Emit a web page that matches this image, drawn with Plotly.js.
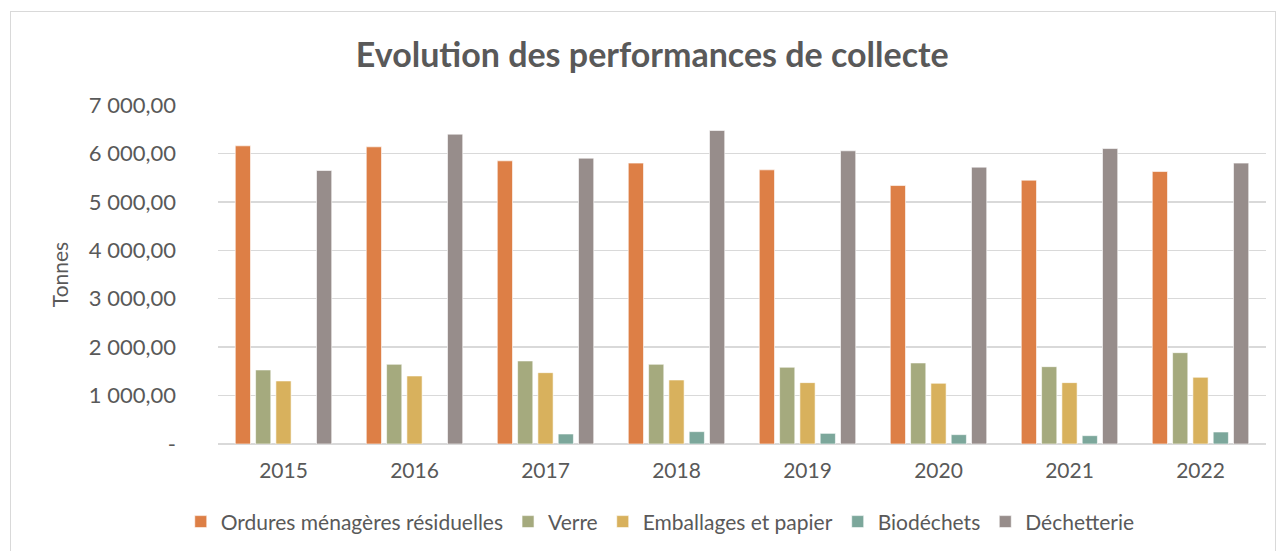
<!DOCTYPE html>
<html>
<head>
<meta charset="utf-8">
<script src="https://cdn.plot.ly/plotly-3.0.1.min.js"></script>
<style>
  html, body { margin: 0; padding: 0; background: #fff; }
  #wrap { position: relative; width: 1284px; height: 551px; overflow: hidden; }
  #chart { width: 1284px; height: 551px; }
  #frame { position: absolute; left: 10px; top: 11px; width: 1266px; height: 600px;
           border: 1px solid #D9D9D9; box-sizing: border-box; pointer-events: none; }
</style>
</head>
<body>
<div id="wrap">
  <div id="chart"></div>
  <div id="frame"></div>
</div>
<script>
const years = ["2015", "2016", "2017", "2018", "2019", "2020", "2021", "2022"];
const omr = [6157, 6136, 5847, 5800, 5661, 5337, 5448, 5626];
const verre = [1529, 1646, 1715, 1646, 1585, 1674, 1597, 1886];
const emballages = [1302, 1405, 1473, 1322, 1267, 1254, 1267, 1378];
const biodechets = [null, null, 207, 255, 220, 193, 172, 248];
const dechetterie = [5647, 6398, 5902, 6473, 6054, 5717, 6101, 5800];

const seriesNames = ["Ordures ménagères résiduelles", "Verre", "Emballages et papier", "Biodéchets", "Déchetterie"];
const seriesColors = ["#DD7F46", "#A5AA7E", "#D8B15D", "#7CA79B", "#978D8B"];
const yTickVals = [0, 1000, 2000, 3000, 4000, 5000, 6000, 7000];
const yTickText = ["-", "1 000,00", "2 000,00", "3 000,00", "4 000,00", "5 000,00", "6 000,00", "7 000,00"];

const allValues = [omr, verre, emballages, biodechets, dechetterie];
const FONT = "Lato, 'Open Sans', sans-serif";
const TXT = "#595959";

const traces = allValues.map((vals, i) => ({
  type: "bar",
  name: seriesNames[i],
  x: years,
  y: vals,
  marker: { color: seriesColors[i], line: { color: "rgba(255,255,255,0.6)", width: 1 } },
  hoverinfo: "x+y+name"
}));

const layout = {
  width: 1284,
  height: 551,
  paper_bgcolor: "#ffffff",
  plot_bgcolor: "#ffffff",
  margin: { l: 218, r: 18, t: 105, b: 107, autoexpand: false },
  barmode: "group",
  bargap: 0.225,
  bargroupgap: 0.25,
  font: { family: FONT, color: TXT, size: 20 },
  title: {
    text: "<b>Evolution des performances de collecte</b>",
    font: { family: FONT, size: 34, color: TXT },
    x: 0.508, xanchor: "center", xref: "container",
    y: 0.9, yanchor: "middle", yref: "container"
  },
  xaxis: {
    type: "category",
    showgrid: false,
    showline: false,
    ticks: "",
    tickangle: 0,
    ticklabelstandoff: 12,
    tickfont: { family: FONT, size: 21, color: TXT }
  },
  yaxis: {
    range: [0, 7000],
    tickvals: yTickVals,
    ticktext: yTickText,
    showgrid: true,
    gridcolor: "#D9D9D9",
    gridwidth: 1.5,
    zeroline: true,
    zerolinecolor: "#D9D9D9",
    zerolinewidth: 1.5,
    showline: false,
    ticks: "",
    ticklabelstandoff: 41,
    tickfont: { family: FONT, size: 22, color: TXT },
    title: { text: "Tonnes", font: { family: FONT, size: 21, color: TXT }, standoff: 14 }
  },
  showlegend: true,
  legend: {
    orientation: "h",
    xref: "paper",
    x: 0.422, xanchor: "center",
    y: -0.23, yanchor: "middle",
    font: { family: FONT, size: 21, color: TXT },
    itemwidth: 30,
    traceorder: "normal"
  }
};

Plotly.newPlot("chart", traces, layout, { displayModeBar: false, staticPlot: true });
</script>
</body>
</html>
